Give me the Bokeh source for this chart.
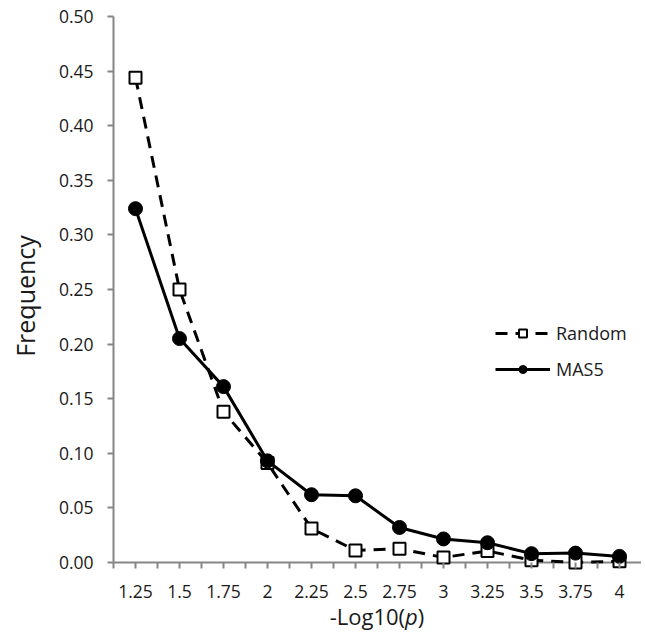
from bokeh.plotting import figure
from bokeh.models import FixedTicker, NumeralTickFormatter, Range1d, Legend, LegendItem, Div, Span
from bokeh.layouts import column
from bokeh.embed import file_html
from bokeh.resources import INLINE

# ---- data ----
x_vals = [1.25, 1.5, 1.75, 2.0, 2.25, 2.5, 2.75, 3.0, 3.25, 3.5, 3.75, 4.0]
x_labels = ["1.25", "1.5", "1.75", "2", "2.25", "2.5", "2.75", "3", "3.25", "3.5", "3.75", "4"]
random_vals = [0.444, 0.250, 0.138, 0.091, 0.031, 0.011, 0.0125, 0.0045, 0.0105, 0.002, 0.0, 0.001]
mas5_vals = [0.324, 0.205, 0.161, 0.093, 0.062, 0.061, 0.032, 0.0215, 0.018, 0.008, 0.0085, 0.0055]
y_ticks = [0.0, 0.05, 0.10, 0.15, 0.20, 0.25, 0.30, 0.35, 0.40, 0.45, 0.50]

FONT = "Open Sans"
TXT = "#1a1a1a"
AX = "#868686"

# a little room below zero so markers sitting on the axis are not cut
p = figure(frame_width=528, frame_height=559,
           min_border_left=113, min_border_right=0, min_border_top=16, min_border_bottom=41,
           x_range=Range1d(1.125, 4.125), y_range=Range1d(-0.012, 0.5),
           output_backend="svg", toolbar_location=None)
p.outline_line_color = None
p.grid.grid_line_color = None
p.background_fill_color = "white"
p.border_fill_color = "white"

minor = [x - 0.125 for x in x_vals]
p.xaxis.ticker = FixedTicker(ticks=x_vals, minor_ticks=minor)
p.xaxis.major_label_overrides = {x: l for x, l in zip(x_vals, x_labels)}
p.yaxis.ticker = FixedTicker(ticks=y_ticks)
p.yaxis.formatter = NumeralTickFormatter(format="0.00")
p.yaxis.bounds = (0, 0.5)

for ax in (p.xaxis, p.yaxis):
    ax.axis_line_color = AX
    ax.axis_line_width = 2
    ax.major_tick_line_color = AX
    ax.major_tick_line_width = 2
    ax.minor_tick_line_color = AX
    ax.minor_tick_line_width = 2
    ax.major_tick_in = 0
    ax.major_tick_out = 6
    ax.minor_tick_in = 0
    ax.minor_tick_out = 6
    ax.major_label_text_font = FONT
    ax.major_label_text_font_size = "17.5px"
    ax.major_label_text_color = TXT
    ax.axis_label_text_font = FONT
    ax.axis_label_text_font_style = "normal"
    ax.axis_label_text_color = TXT
    ax.axis_label_text_font_size = "25px"

# x axis line drawn at zero; ticks hang below zero (frame bottom lies 13px lower)
p.xaxis.axis_line_color = None
p.xaxis.major_tick_in = 13
p.xaxis.major_tick_out = -7
p.xaxis.minor_tick_in = 13
p.xaxis.minor_tick_out = -7
p.xaxis.major_label_standoff = 16
p.add_layout(Span(location=0, dimension="width", line_color=AX, line_width=2, level="underlay"))

p.yaxis.minor_tick_out = 0
p.yaxis.major_label_standoff = 14
p.yaxis.axis_label = "Frequency"
p.yaxis.axis_label_standoff = 14

r1 = p.line(x_vals, random_vals, line_color="black", line_width=3, line_dash="12 8")
r2 = p.scatter(x_vals, random_vals, marker="square", size=12, fill_color="white",
               line_color="black", line_width=2)
r3 = p.line(x_vals, mas5_vals, line_color="black", line_width=3)
r4 = p.scatter(x_vals, mas5_vals, marker="circle", size=14, fill_color="black",
               line_color="black")

legend = Legend(items=[LegendItem(label="Random", renderers=[r1, r2]),
                       LegendItem(label="MAS5", renderers=[r3, r4])],
                location=(382, 194), border_line_color=None, background_fill_alpha=0,
                padding=0, margin=0, spacing=12, glyph_width=55, glyph_height=20,
                label_standoff=6, label_text_font=FONT, label_text_font_size="18px",
                label_text_color=TXT)
p.add_layout(legend)

xtitle = Div(text="-Log10(<i>p</i>)", width=528, height=20, margin=(0, 0, 0, 113),
             styles={"text-align": "center", "font-family": FONT, "font-size": "22px",
                     "color": TXT, "line-height": "0px"})

layout = column(p, xtitle, spacing=0)
open("out.html", "w").write(file_html(layout, INLINE))
